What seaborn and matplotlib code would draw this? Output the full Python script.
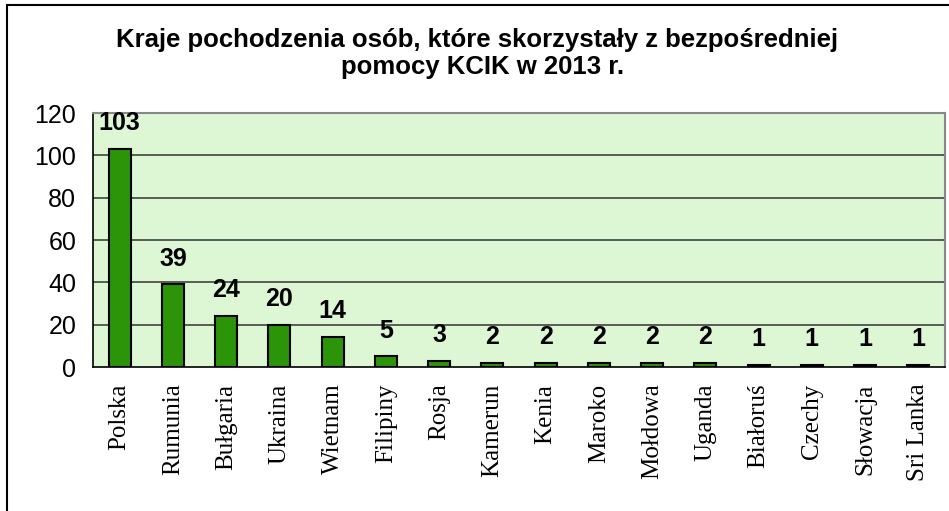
import numpy as np
import pandas as pd
import matplotlib
matplotlib.use("Agg")
import matplotlib.pyplot as plt
from matplotlib.patches import Rectangle
import seaborn as sns

countries = ["Polska", "Rumunia", "Bułgaria", "Ukraina", "Wietnam", "Filipiny", "Rosja",
             "Kamerun", "Kenia", "Maroko", "Mołdowa", "Uganda", "Białoruś", "Czechy",
             "Słowacja", "Sri Lanka"]
counts = [103, 39, 24, 20, 14, 5, 3, 2, 2, 2, 2, 2, 1, 1, 1, 1]
y_ticks = [0, 20, 40, 60, 80, 100, 120]
title_lines = ["Kraje pochodzenia osób, które skorzystały z bezpośredniej",
               "pomocy KCIK w 2013 r."]

sns.set_style("white")
plt.rcParams["font.family"] = ["Liberation Sans", "DejaVu Sans"]
plt.rcParams["text.color"] = "black"
plt.rcParams["xtick.color"] = "black"
plt.rcParams["ytick.color"] = "black"

df = pd.DataFrame({"kraj": countries, "liczba": counts})

fig = plt.figure(figsize=(9.49, 5.11), dpi=100)
ax = fig.add_axes([93 / 949, 1 - 367 / 511, (945 - 93) / 949, (367 - 113) / 511])
ax.set_facecolor("#DDF6D4")

sns.barplot(data=df, x="kraj", y="liczba", color="#2B9409", saturation=1,
            edgecolor="black", linewidth=1.5, width=0.41, ax=ax, zorder=3)

ax.set_ylim(0, 120)
ax.set_xlim(-0.5, len(countries) - 0.5)
ax.set_yticks(y_ticks)
ax.set_yticklabels([str(t) for t in y_ticks], fontsize=18)
ax.set_xlabel("")
ax.set_ylabel("")

# gridlines
for t in y_ticks[1:-1]:
    ax.axhline(t, color="#333333", lw=1.1, zorder=1)

# x labels (serif), ticks between categories
ax.set_xticks(range(len(countries)))
ax.set_xticklabels(countries, rotation=90, fontsize=18, family="Liberation Serif")
ax.set_xticks(np.arange(-0.5, len(countries)), minor=True)
ax.tick_params(axis="x", which="major", length=0, pad=12)
ax.tick_params(axis="x", which="minor", length=7, width=1, color="black", direction="out")
ax.tick_params(axis="y", length=7, width=1, color="black", direction="out", pad=5)

for side in ["left", "bottom"]:
    ax.spines[side].set_color("black")
    ax.spines[side].set_linewidth(1.2)
for side in ["top", "right"]:
    ax.spines[side].set_color("#888888")
    ax.spines[side].set_linewidth(1.5)

# value labels
for i, v in enumerate(counts):
    ax.annotate(str(v), (i, v), xytext=(0, 10), textcoords="offset points",
                ha="center", va="bottom", fontsize=18, fontweight="bold", color="black")

# title, two lines (2nd line sits a bit right of centre in the original)
fig.text(477.5 / 949, 1 - 47 / 511, title_lines[0], ha="center", va="baseline",
         fontsize=18.5, fontweight="bold", color="black")
fig.text(483 / 949, 1 - 74 / 511, title_lines[1], ha="center", va="baseline",
         fontsize=18.5, fontweight="bold", color="black")

fig.add_artist(Rectangle((7 / 949, -0.1), 2, 1 - 5 / 511 + 0.1, transform=fig.transFigure,
                         fill=False, lw=1.5, edgecolor="black"))

fig.savefig("out.png", dpi=100)
